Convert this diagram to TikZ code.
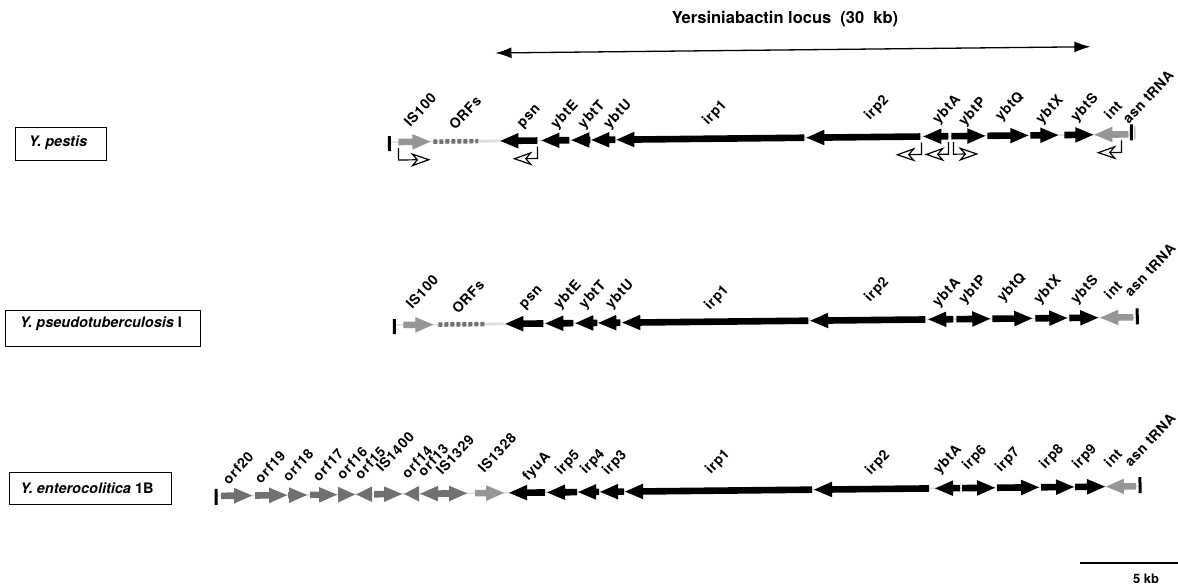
\documentclass[tikz,border=0pt]{standalone}
\usepackage{fontspec}
\setmainfont{TeX Gyre Heros}
\newfontfamily\labfont[LetterSpace=5]{TeX Gyre Heros}
\usetikzlibrary{arrows.meta}
\definecolor{ggray}{RGB}{112,112,112}
\definecolor{igray}{RGB}{150,150,150}
\definecolor{fgray}{RGB}{222,222,222}
\newcommand\geneR[4]{%
  \pgfmathsetmacro\ghl{min(18,#2-#1)}%
  \fill[#4] (#1,{#3-3.3}) -- ({#2-\ghl},{#3-3.3}) -- ({#2-\ghl},{#3-7.8}) -- (#2,#3) -- ({#2-\ghl},{#3+7.8}) -- ({#2-\ghl},{#3+3.3}) -- (#1,{#3+3.3}) -- cycle;}
\newcommand\geneL[4]{%
  \pgfmathsetmacro\ghl{min(18,#2-#1)}%
  \fill[#4] (#1,#3) -- ({#1+\ghl},{#3-7.8}) -- ({#1+\ghl},{#3-3.3}) -- (#2,{#3-3.3}) -- (#2,{#3+3.3}) -- ({#1+\ghl},{#3+3.3}) -- ({#1+\ghl},{#3+7.8}) -- cycle;}
\newcommand\glab[4]{\node[glabel] (#1) at (#2,#3) {#4};}
\begin{document}
\begin{tikzpicture}[x=1pt,y=-1pt,
  glabel/.style={rotate=47,anchor=center,inner sep=0pt,font=\labfont\fontsize{14}{14}\selectfont\bfseries},
  endbar/.style={line width=3pt},
  prom/.style={line width=1.2pt,-{Stealth[open,length=20pt,width=14pt,inset=6pt]}},
  baseln/.style={fgray,line width=1.5pt},
  orfdash/.style={ggray,line width=4.5pt,dash pattern=on 4pt off 2pt},
  sbox/.style={draw,line width=1.3pt,inner sep=0pt,anchor=north west},
  stext/.style={font=\fontsize{14.5}{15}\selectfont\bfseries\itshape},
  locus/.style={line width=1.3pt,{Latex[length=16pt,width=11pt]}-{Latex[length=16pt,width=11pt]}}]
\useasboundingbox (0,0) rectangle (1178,586);

% title
\node[font=\fontsize{16.5}{16.5}\selectfont\bfseries] (title) at (785,19) {Yersiniabactin locus\ \ (30\ \ kb)};

% strain boxes
\node[sbox,minimum width=91pt,minimum height=33pt] (box1) at (15,127) {};
\node[stext] (lab1) at (58,143) {Y. pestis};
\node[sbox,minimum width=195pt,minimum height=36pt] (box2) at (5,310) {};
\node[stext] (lab2) at (101,324) {Y. pseudotuberculosis \upshape I};
\node[sbox,minimum width=162pt,minimum height=32pt] (box3) at (9,472) {};
\node[stext] (lab3) at (87,488) {Y. enterocolitica \upshape 1B};

\begin{scope}[rotate around={0.6:(589,293)}]
  % locus arrow
  \coordinate (la) at (498,52);
  \coordinate (lb) at (1093,52);
  \draw[locus] (la) -- (lb);

  % ---------- Y. pestis row (y=140)
  \draw[baseln] (391,140) -- (1133,140);
  \draw[endbar] (391,134) -- (391,149);
  \geneR{400}{432}{140}{igray}
  \draw[orfdash] (435,140) -- (480,140);
  \draw[fgray,line width=3pt] (480,140) -- (500,140);
  \geneL{502}{539}{140}{black}
  \geneL{543}{571}{140}{black}
  \geneL{573}{592}{140}{black}
  \geneL{593}{617}{140}{black}
  \geneL{618}{806}{140}{black}
  \geneL{808}{922}{140}{black}
  \geneL{925}{950}{140}{black}
  \geneR{953}{987}{140}{black}
  \geneR{989}{1030}{140}{black}
  \geneR{1032}{1060}{140}{black}
  \geneR{1066}{1095}{140}{black}
  \geneL{1096}{1130}{140}{igray}
  \draw[endbar] (1133,130) -- (1133,146);
  \draw[igray,line width=1pt] (1136.5,132) -- (1136.5,145);
  % promoters
  \draw[prom] (400,146) |- (432,158);
  \draw[prom] (539,146) |- (514,158);
  \draw[prom] (923,146) |- (897,158);
  \draw[prom] (950,146) |- (926,158);
  \draw[prom] (955,146) |- (980,158);
  \draw[prom] (1123,146) |- (1098,158);

  % ---------- Y. pseudotuberculosis row (y=323)
  \draw[baseln] (394,323) -- (1137,323);
  \draw[endbar] (394,317) -- (394,332);
  \geneR{403}{433}{323}{igray}
  \draw[orfdash] (438,323) -- (485,323);
  \draw[fgray,line width=3pt] (485,323) -- (503,323);
  \geneL{505}{543}{323}{black}
  \geneL{545}{573}{323}{black}
  \geneL{575}{597}{323}{black}
  \geneL{598}{620}{323}{black}
  \geneL{622}{808}{323}{black}
  \geneL{810}{925}{323}{black}
  \geneL{928}{953}{323}{black}
  \geneR{956}{990}{323}{black}
  \geneR{992}{1032}{323}{black}
  \geneR{1035}{1067}{323}{black}
  \geneR{1069}{1098}{323}{black}
  \geneL{1100}{1133}{323}{igray}
  \draw[endbar] (1137,314) -- (1137,330);

  % ---------- Y. enterocolitica row (y=492)
  \draw[baseln] (214,492) -- (1138,492);
  \draw[endbar] (214,485) -- (214,501);
  \geneR{219}{250}{492}{ggray}
  \geneR{253}{285}{492}{ggray}
  \geneR{286}{305}{492}{ggray}
  \geneR{308}{335}{492}{ggray}
  \geneR{336}{353}{492}{ggray}
  \geneL{354}{370}{492}{ggray}
  \geneR{372}{400}{492}{ggray}
  \geneL{402}{417}{492}{ggray}
  \geneL{418}{440}{492}{ggray}
  \geneR{440}{465}{492}{ggray}
  \geneR{473}{502}{492}{igray}
  \geneL{507}{543}{492}{black}
  \geneL{545}{575}{492}{black}
  \geneL{576}{597}{492}{black}
  \geneL{598}{622}{492}{black}
  \geneL{623}{810}{492}{black}
  \geneL{812}{927}{492}{black}
  \geneL{933}{958}{492}{black}
  \geneR{960}{993}{492}{black}
  \geneR{995}{1037}{492}{black}
  \geneR{1039}{1072}{492}{black}
  \geneR{1073}{1103}{492}{black}
  \geneL{1104}{1134}{492}{igray}
  \draw[endbar] (1138,483) -- (1138,499);
\end{scope}

% ---------- labels, top row
\glab{t1}{420}{110}{IS100}
\glab{t2}{465}{113}{ORFs}
\glab{t3}{530}{117}{psn}
\glab{t4}{565}{115}{ybtE}
\glab{t5}{592}{115}{ybtT}
\glab{t6}{618}{115}{ybtU}
\glab{t7}{715}{113}{irp1}
\glab{t8}{877}{108}{irp2}
\glab{t9}{947}{110}{ybtA}
\glab{t10}{973}{112}{ybtP}
\glab{t11}{1010}{107}{ybtQ}
\glab{t12}{1050}{110}{ybtX}
\glab{t13}{1085}{108}{ybtS}
\glab{t14}{1113}{110}{int}
\glab{t15}{1148}{97}{asn tRNA}

% ---------- labels, middle row
\glab{m1}{422}{292}{IS100}
\glab{m2}{468}{297}{ORFs}
\glab{m3}{532}{298}{psn}
\glab{m4}{568}{295}{ybtE}
\glab{m5}{593}{295}{ybtT}
\glab{m6}{620}{295}{ybtU}
\glab{m7}{717}{298}{irp1}
\glab{m8}{877}{290}{irp2}
\glab{m9}{947}{293}{ybtA}
\glab{m10}{973}{290}{ybtP}
\glab{m11}{1012}{288}{ybtQ}
\glab{m12}{1048}{290}{ybtX}
\glab{m13}{1085}{290}{ybtS}
\glab{m14}{1113}{290}{int}
\glab{m15}{1150}{270}{asn tRNA}

% ---------- labels, bottom row
\glab{b1}{238}{468}{orf20}
\glab{b2}{270}{467}{orf19}
\glab{b3}{298}{465}{orf18}
\glab{b4}{328}{465}{orf17}
\glab{b5}{352}{463}{orf16}
\glab{b6}{370}{463}{orf15}
\glab{b7}{395}{452}{IS1400}
\glab{b8}{417}{462}{orf14}
\glab{b9}{433}{460}{orf13}
\glab{b10}{455}{455}{IS1329}
\glab{b11}{497}{453}{IS1328}
\glab{b12}{537}{467}{fyuA}
\glab{b13}{568}{463}{irp5}
\glab{b14}{593}{462}{irp4}
\glab{b15}{615}{463}{irp3}
\glab{b16}{718}{462}{irp1}
\glab{b17}{878}{463}{irp2}
\glab{b18}{948}{460}{ybtA}
\glab{b19}{975}{458}{irp6}
\glab{b20}{1008}{460}{irp7}
\glab{b21}{1052}{457}{irp8}
\glab{b22}{1085}{457}{irp9}
\glab{b23}{1113}{458}{int}
\glab{b24}{1150}{440}{asn tRNA}

% ---------- scale bar
\coordinate (s1) at (1080,563);
\coordinate (s2) at (1178,563);
\draw[line width=2pt] (s1) -- (s2);
\node[font=\fontsize{13}{13}\selectfont\bfseries] (sk) at (1146,579) {5 kb};
\end{tikzpicture}
\end{document}
